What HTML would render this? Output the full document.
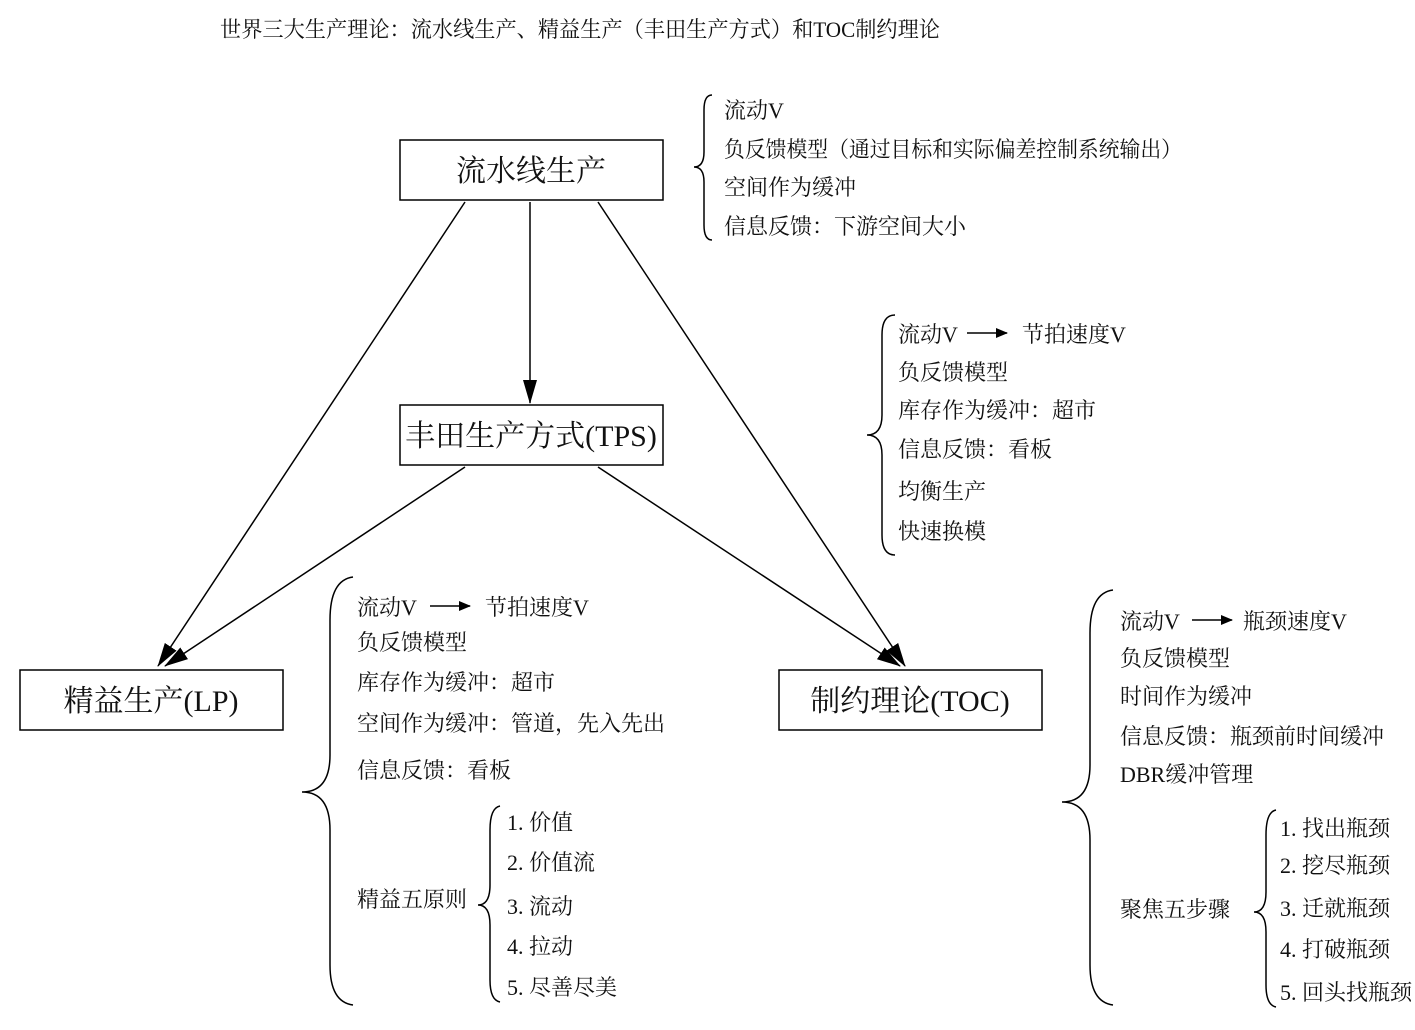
<!DOCTYPE html>
<html><head><meta charset="utf-8"><style>
html,body{margin:0;padding:0;background:#fff;}
svg{display:block;}
text{font-family:"Liberation Serif","Noto Serif CJK SC",serif;fill:#111;}
.t{font-size:22px;}
.b{font-size:30px;}
</style></head><body>
<svg width="1415" height="1030" viewBox="0 0 1415 1030" xmlns="http://www.w3.org/2000/svg">
<defs>
<marker id="ah" markerWidth="12" markerHeight="10" refX="11" refY="5" orient="auto" markerUnits="userSpaceOnUse" viewBox="0 0 12 10">
<path d="M0,0 L12,5 L0,10 z" fill="#000"/></marker>
<marker id="big" markerWidth="24" markerHeight="14" refX="23" refY="7" orient="auto" markerUnits="userSpaceOnUse" viewBox="0 0 24 14">
<path d="M0,0 L24,7 L0,14 z" fill="#000"/></marker>
</defs>
<text x="220" y="37" style="font-size:22px" textLength="720" lengthAdjust="spacingAndGlyphs">世界三大生产理论：流水线生产、精益生产（丰田生产方式）和TOC制约理论</text>

<g fill="none" stroke="#000" stroke-width="1.5">
<rect x="400" y="140" width="263" height="60"/>
<rect x="400" y="405" width="263" height="60"/>
<rect x="20" y="670" width="263" height="60"/>
<rect x="779" y="670" width="263" height="60"/>
<line x1="465" y1="202" x2="158" y2="666" marker-end="url(#big)"/>
<line x1="530" y1="202" x2="530" y2="403" marker-end="url(#big)"/>
<line x1="598" y1="202" x2="905" y2="666" marker-end="url(#big)"/>
<line x1="465" y1="467" x2="165" y2="666" marker-end="url(#big)"/>
<line x1="598" y1="467" x2="900" y2="666" marker-end="url(#big)"/>
<!-- braces -->
<path d="M712,95 Q704,95 704,110 L704,152 Q704,167 694,167 Q704,167 704,182 L704,225 Q704,240 712,240"/>
<path d="M895,315 Q882,315 882,335 L882,415 Q882,435 867,435 Q882,435 882,455 L882,535 Q882,555 895,555"/>
<path d="M353,577 Q330,580 330,620 L330,755 Q330,792 302,792 Q330,792 330,830 L330,965 Q330,1002 353,1005"/>
<path d="M500,806 Q490,808 490,830 L490,885 Q490,905 478,905 Q490,905 490,925 L490,980 Q490,1000 500,1002"/>
<path d="M1113,590 Q1090,593 1090,633 L1090,765 Q1090,802 1062,802 Q1090,802 1090,840 L1090,965 Q1090,1002 1113,1005"/>
<path d="M1276,810 Q1266,812 1266,835 L1266,892 Q1266,912 1254,912 Q1266,912 1266,932 L1266,985 Q1266,1005 1276,1007"/>
</g>
<g stroke="#000" stroke-width="1.5">
<line x1="430" y1="606" x2="470" y2="606" marker-end="url(#ah)"/>
<line x1="967" y1="333" x2="1007" y2="333" marker-end="url(#ah)"/>
<line x1="1192" y1="620" x2="1232" y2="620" marker-end="url(#ah)"/>
</g>

<text class="b" x="531" y="181" text-anchor="middle">流水线生产</text>
<text class="b" x="531" y="446" text-anchor="middle">丰田生产方式(TPS)</text>
<text class="b" x="151" y="711" text-anchor="middle">精益生产(LP)</text>
<text class="b" x="910" y="711" text-anchor="middle">制约理论(TOC)</text>

<g class="t">
<text x="724" y="118">流动V</text>
<text x="724" y="157" textLength="458" lengthAdjust="spacingAndGlyphs">负反馈模型（通过目标和实际偏差控制系统输出）</text>
<text x="724" y="195">空间作为缓冲</text>
<text x="724" y="234">信息反馈：下游空间大小</text>

<text x="898" y="342">流动V</text><text x="1022" y="342">节拍速度V</text>
<text x="898" y="380">负反馈模型</text>
<text x="898" y="418">库存作为缓冲：超市</text>
<text x="898" y="457">信息反馈：看板</text>
<text x="898" y="499">均衡生产</text>
<text x="898" y="539">快速换模</text>

<text x="357" y="615">流动V</text><text x="485" y="615">节拍速度V</text>
<text x="357" y="650">负反馈模型</text>
<text x="357" y="690">库存作为缓冲：超市</text>
<text x="357" y="731">空间作为缓冲：管道，先入先出</text>
<text x="357" y="778">信息反馈：看板</text>
<text x="357" y="907">精益五原则</text>
<text x="507" y="830">1. 价值</text>
<text x="507" y="870">2. 价值流</text>
<text x="507" y="914">3. 流动</text>
<text x="507" y="954">4. 拉动</text>
<text x="507" y="995">5. 尽善尽美</text>

<text x="1120" y="629">流动V</text><text x="1243" y="629">瓶颈速度V</text>
<text x="1120" y="666">负反馈模型</text>
<text x="1120" y="704">时间作为缓冲</text>
<text x="1120" y="744">信息反馈：瓶颈前时间缓冲</text>
<text x="1120" y="782">DBR缓冲管理</text>
<text x="1120" y="917">聚焦五步骤</text>
<text x="1280" y="836">1. 找出瓶颈</text>
<text x="1280" y="873">2. 挖尽瓶颈</text>
<text x="1280" y="916">3. 迁就瓶颈</text>
<text x="1280" y="957">4. 打破瓶颈</text>
<text x="1280" y="1000">5. 回头找瓶颈</text>
</g>
</svg>
</body></html>
